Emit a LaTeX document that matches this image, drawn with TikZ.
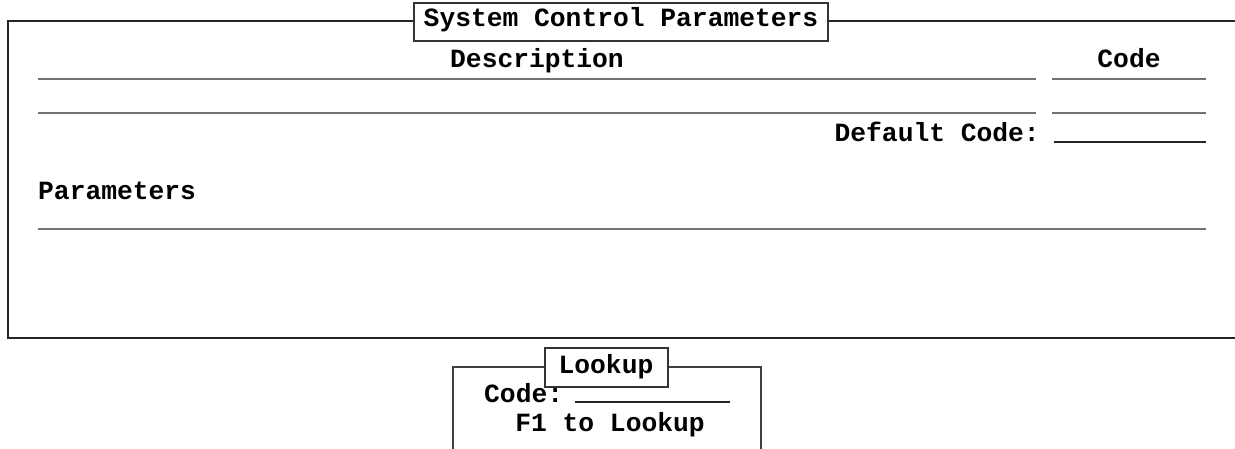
\documentclass[tikz,border=0pt]{standalone}
\usepackage{fontspec}
\setmonofont{Liberation Mono}
\tikzset{
  lbl/.style={font=\ttfamily\bfseries\fontsize{26.3}{30}\selectfont, inner sep=0pt, anchor=base},
  frameline/.style={line width=1.4pt, black!85},
  boxline/.style={draw, line width=1.1pt, black!80, inner sep=0pt},
  fieldline/.style={line width=1.9pt, black!55},
  thinline/.style={line width=1.1pt, black!85},
}
\begin{document}
\begin{tikzpicture}[x=1pt,y=-1pt]
\useasboundingbox[fill=white] (0,0) rectangle (1235,449);
% main frame
\node[boxline, minimum width=414pt, minimum height=38pt] (titlebox) at (621,22) {};
\node[lbl] (title) at (621,27) {System Control Parameters};
\coordinate (tl) at (8,21);
\coordinate (bl) at (8,338);
\coordinate (br) at (1235,338);
\coordinate (tr) at (1235,21);
\draw[frameline] (titlebox.west |- tl) -- (tl) -- (bl) -- (br);
\draw[frameline] (titlebox.east |- tr) -- (tr);
% headings
\node[lbl] (desc) at (537,68) {Description};
\node[lbl] (codeh) at (1129,68) {Code};
% field lines
\coordinate (d1a) at (38,79); \coordinate (d1b) at (1036,79);
\coordinate (c1a) at (1052,79); \coordinate (c1b) at (1206,79);
\coordinate (d2a) at (38,113); \coordinate (d2b) at (1036,113);
\coordinate (c2a) at (1052,113); \coordinate (c2b) at (1206,113);
\draw[fieldline] (d1a) -- (d1b);
\draw[fieldline] (c1a) -- (c1b);
\draw[fieldline] (d2a) -- (d2b);
\draw[fieldline] (c2a) -- (c2b);
% default code
\node[lbl, anchor=base east] (defcode) at (1040,142) {Default Code:};
\coordinate (dcb) at (1206,142);
\draw[thinline] ([xshift=14pt]defcode.base east) -- (dcb);
% parameters
\node[lbl, anchor=base west] (params) at (38,200) {Parameters};
\coordinate (pa) at (38,229); \coordinate (pb) at (1206,229);
\draw[fieldline] (pa) -- (pb);
% lookup box
\node[boxline, minimum width=123pt, minimum height=39pt] (lookbox) at (606.5,367.5) {};
\node[lbl] (looktitle) at (606,373) {Lookup};
\coordinate (ltl) at (453,367); \coordinate (lbl) at (453,452);
\coordinate (ltr) at (761,367); \coordinate (lbr) at (761,452);
\draw[frameline, black!75, line width=1.2pt] (lookbox.west |- ltl) -- (ltl) -- (lbl);
\draw[frameline, black!75, line width=1.2pt] (lookbox.east |- ltr) -- (ltr) -- (lbr);
\node[lbl, anchor=base west] (lcode) at (484,402) {Code:};
\coordinate (lce) at (730,402);
\draw[thinline] ([xshift=12pt]lcode.base east) -- (lce);
\node[lbl] (f1) at (610,431) {F1 to Lookup};
\end{tikzpicture}
\end{document}
